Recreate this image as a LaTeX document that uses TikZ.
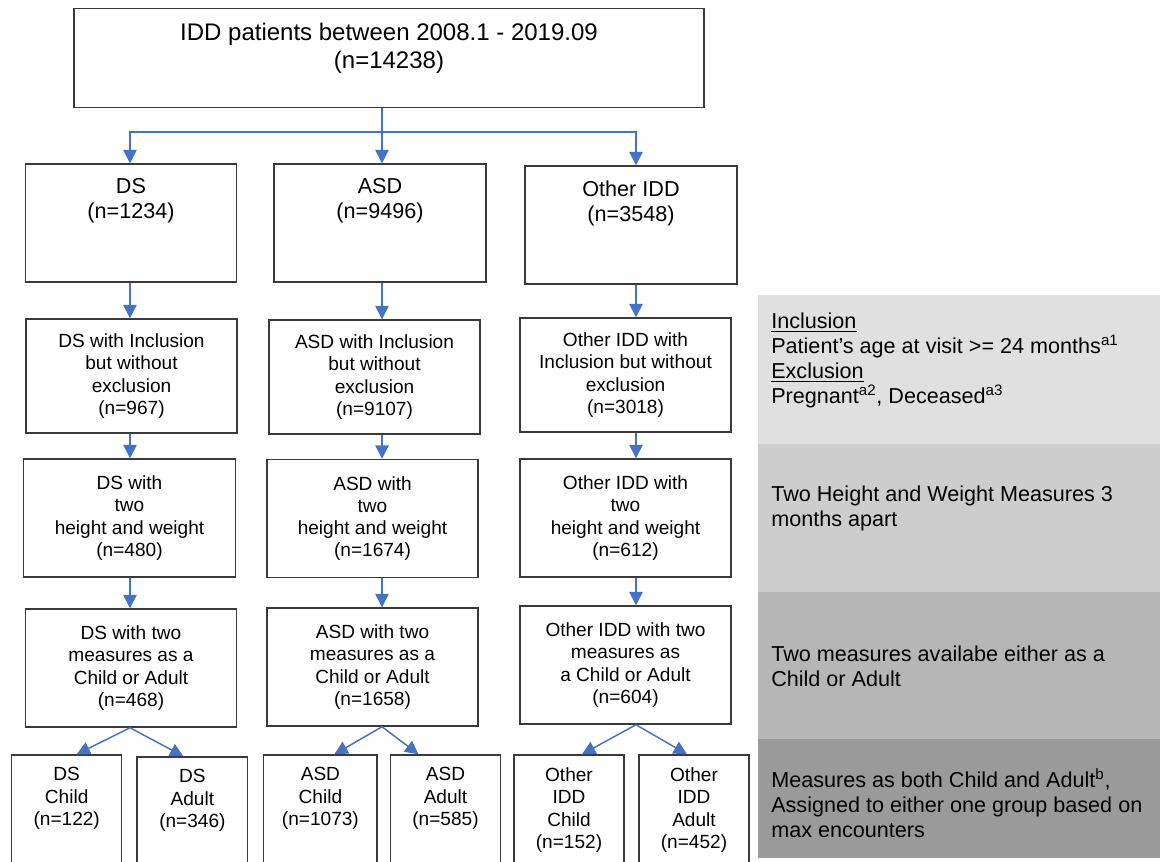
\documentclass[tikz,border=0pt]{standalone}
\usepackage{fontspec}
\setmainfont{Liberation Sans}
\usetikzlibrary{arrows.meta}
\usetikzlibrary{calc}
\definecolor{flowblue}{HTML}{4472C4}
\definecolor{boxgray}{HTML}{3A3A3A}
\definecolor{bandA}{HTML}{E0E0E0}
\definecolor{bandB}{HTML}{CDCDCD}
\definecolor{bandC}{HTML}{B6B6B6}
\definecolor{bandD}{HTML}{9A9A9A}
\newcommand{\stage}[6] % name, x, y, width, height (px), text
{
	\node[box, minimum width=#4*0.75pt, minimum height=#5*0.75pt] (#1) at (#2,#3) {#6};
}
\newcommand{\headstage}[8] % name, x, y, width, height (px), text drop (px), text style, text
{
	\node[box, minimum width=#4*0.75pt, minimum height=#5*0.75pt,
		label={[#7, yshift=-#6*0.75pt]north:{#8}}] (#1) at (#2,#3) {};
}

\begin{document}
\begin{tikzpicture}[x=0.75pt, y=-0.75pt,
	box/.style={draw=boxgray, line width=1.1pt, inner sep=0pt, align=center, font=\fontsize{14.3}{16.7}\selectfont},
	flow/.style={draw=flowblue, line width=1.1pt, -{Triangle[length=10pt,width=10pt]}},
	headtext/.style={anchor=north, inner sep=0pt, align=center},
	bigtext/.style={headtext, font=\fontsize{18}{20.75}\selectfont},
	midtext/.style={headtext, font=\fontsize{16.2}{18.75}\selectfont},
	smalltext/.style={headtext, font=\fontsize{14.3}{16.9}\selectfont},
	note/.style={anchor=north west, inner sep=0pt, align=left, font={\fontsize{16.2}{18.75}\selectfont\lineskiplimit=-100pt}}]
	% 1160px x 861px, 1px = 0.75pt
	\useasboundingbox (0,0) rectangle (1160,861);
	\clip (0,0) rectangle (1160,861);

	% criteria bands
	\fill[bandA] (758,295) rectangle (1160,444);
	\fill[bandB] (758,444) rectangle (1160,592);
	\fill[bandC] (758,592) rectangle (1160,739);
	\fill[bandD] (758,739) rectangle (1160,858);
	\node[note] (incl) at (771,313) {\underline{Inclusion}\\Patient’s age at visit >= 24 months\textsuperscript{a1}\\\underline{Exclusion}\\Pregnant\textsuperscript{a2}, Deceased\textsuperscript{a3}};
	\node[note] (twohw) at (771,486) {Two Height and Weight Measures 3\\months apart};
	\node[note] (twomeas) at (771,646) {Two measures availabe either as a\\Child or Adult};
	\node[note] (assign) at (771,768) {Measures as both Child and Adult\textsuperscript{b},\\Assigned to either one group based on\\max encounters};

	% columns
	\coordinate (dsx) at (130,0);
	\coordinate (asx) at (382,0);
	\coordinate (oix) at (636,0);
	\coordinate (bus) at (0,132);

	% all patients
	\headstage{top}{389}{58}{630}{99}{15}{bigtext}{IDD patients between 2008.1 - 2019.09\\(n=14238)}

	% diagnosis
	\headstage{ds1}{131}{223}{211}{118}{15}{midtext}{DS\\(n=1234)}
	\headstage{asd1}{380}{223}{212}{118}{15}{midtext}{ASD\\(n=9496)}
	\headstage{oi1}{631}{225}{212}{118}{15}{midtext}{Other IDD\\(n=3548)}

	% inclusion / exclusion
	\stage{ds2}{131.5}{376}{211}{114}{DS with Inclusion\\but without\\exclusion\\(n=967)}
	\stage{asd2}{374.5}{377}{211}{114}{ASD with Inclusion\\but without\\exclusion\\(n=9107)}
	\stage{oi2}{625.5}{375}{211}{114}{Other IDD with\\Inclusion but without\\exclusion\\(n=3018)}

	% two height and weight
	\stage{ds3}{129.5}{518}{212}{118}{DS with\\two\\height and weight\\(n=480)}
	\stage{asd3}{372.5}{518.5}{211}{118}{ASD with\\two\\height and weight\\(n=1674)}
	\stage{oi3}{625.5}{518}{211}{118}{Other IDD with\\two\\height and weight\\(n=612)}

	% child or adult
	\stage{ds4}{131}{668}{211}{118}{DS with two\\measures as a\\Child or Adult\\(n=468)}
	\stage{asd4}{372.5}{667}{211}{118}{ASD with two\\measures as a\\Child or Adult\\(n=1658)}
	\stage{oi4}{625.5}{665}{211}{118}{Other IDD with two\\measures as\\a Child or Adult\\(n=604)}

	% groups
	\headstage{dsc}{66.7}{830}{110}{150}{13}{smalltext}{DS\\Child\\(n=122)}
	\headstage{dsa}{192.4}{832}{110.7}{150}{13}{smalltext}{DS\\Adult\\(n=346)}
	\headstage{asc}{320.4}{830}{113.3}{150}{13}{smalltext}{ASD\\Child\\(n=1073)}
	\headstage{asa}{445.5}{830}{110}{150}{13}{smalltext}{ASD\\Adult\\(n=585)}
	\headstage{oic}{569}{830}{110}{150}{13}{smalltext}{Other\\IDD\\Child\\(n=152)}
	\headstage{oia}{694}{830}{110}{150}{13}{smalltext}{Other\\IDD\\Adult\\(n=452)}

	% arrows
	\draw[flow] (top.south -| asx) -- (asd1.north -| asx);
	\draw[flow] (bus -| asx) -| (ds1.north -| dsx);
	\draw[flow] (bus -| asx) -| (oi1.north -| oix);

	\draw[flow] (ds1.south -| dsx) -- (ds2.north -| dsx);
	\draw[flow] (ds2.south -| dsx) -- (ds3.north -| dsx);
	\draw[flow] (ds3.south -| dsx) -- (ds4.north -| dsx);
	\draw[flow] (asd1.south -| asx) -- (asd2.north -| asx);
	\draw[flow] (asd2.south -| asx) -- (asd3.north -| asx);
	\draw[flow] (asd3.south -| asx) -- (asd4.north -| asx);
	\draw[flow] (oi1.south -| oix) -- (oi2.north -| oix);
	\draw[flow] (oi2.south -| oix) -- (oi3.north -| oix);
	\draw[flow] (oi3.south -| oix) -- (oi4.north -| oix);

	\draw[flow] (ds4.south -| dsx) -- ($(dsc.north)+(10,0)$);
	\draw[flow] (ds4.south -| dsx) -- ($(dsa.north)+(-9,0)$);
	\draw[flow] (asd4.south -| asx) -- ($(asc.north)+(14,0)$);
	\draw[flow] (asd4.south -| asx) -- ($(asa.north)+(-27,0)$);
	\draw[flow] (oi4.south -| oix) -- ($(oic.north)+(13,0)$);
	\draw[flow] (oi4.south -| oix) -- ($(oia.north)+(-7,0)$);
\end{tikzpicture}
\end{document}
